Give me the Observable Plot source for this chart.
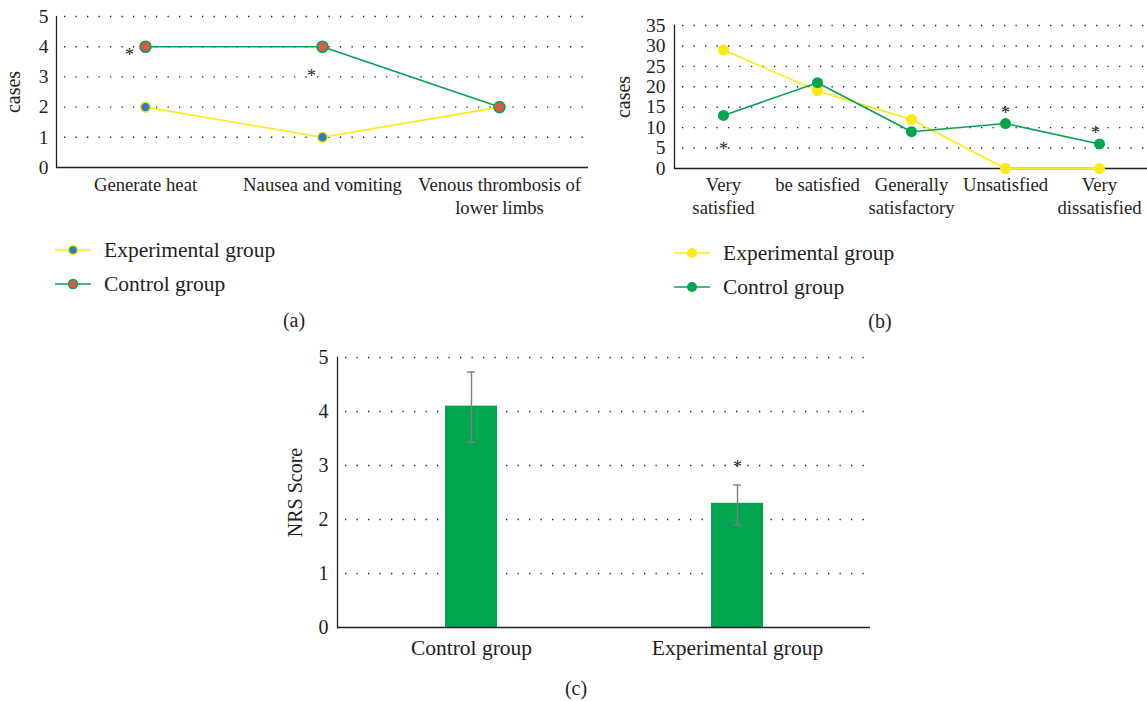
<!DOCTYPE html>
<html>
<head>
<meta charset="utf-8">
<script src="https://cdn.jsdelivr.net/npm/d3@7"></script>
<script src="https://cdn.jsdelivr.net/npm/@observablehq/plot@0.6"></script>
<style>
  html, body { margin: 0; padding: 0; background: #fff; }
  #root { position: relative; width: 1147px; height: 701px; background: #fff; font-family: "Liberation Serif", serif; color: #231f20; overflow: hidden; }
  .panel { position: absolute; }
  .leg { position: absolute; display: flex; align-items: center; height: 24px; font-size: 21.5px; white-space: nowrap; }
  .leg svg { display: block; margin-right: 13px; }
  .cap { position: absolute; font-size: 20px; transform: translate(-50%, -50%); }
</style>
</head>
<body>
<div id="root">
  <div id="pa" class="panel" style="left:0;top:0"></div>
  <div id="pb" class="panel" style="left:600px;top:0"></div>
  <div id="pc" class="panel" style="left:270px;top:340px"></div>
  <div id="legA"></div>
  <div id="legB"></div>
  <div class="cap" style="left:294px;top:320px">(a)</div>
  <div class="cap" style="left:880px;top:321px">(b)</div>
  <div class="cap" style="left:576px;top:688px">(c)</div>
</div>
<script>
// ---------- data ----------
const seriesNames = ["Experimental group", "Control group"];

const aCategories = ["Generate heat", "Nausea and vomiting", "Venous thrombosis of\nlower limbs"];
const aExperimental = [2, 1, 2];
const aControl = [4, 4, 2];
const aTicks = [0, 1, 2, 3, 4, 5];
const aStarCategories = ["Generate heat", "Nausea and vomiting"];
const aStarValues = [3.85, 3.15];

const bCategories = ["Very\nsatisfied", "be satisfied", "Generally\nsatisfactory", "Unsatisfied", "Very\ndissatisfied"];
const bExperimental = [29, 19, 12, 0, 0];
const bControl = [13, 21, 9, 11, 6];
const bTicks = [0, 5, 10, 15, 20, 25, 30, 35];
const bStarCategories = ["Very\nsatisfied", "Unsatisfied", "Very\ndissatisfied"];
const bStarValues = [5.8, 14.6, 9.5];

const cGroups = ["Control group", "Experimental group"];
const cMeans = [4.1, 2.3];
const cLow = [3.43, 1.9];
const cHigh = [4.73, 2.64];
const cTicks = [0, 1, 2, 3, 4, 5];
const cStarGroups = ["Experimental group"];
const cStarValues = [3.05];

// ---------- styles ----------
const INK = "#231f20";
const YELLOW = "#fcea10";
const GREEN = "#00a550";
const BLUE = "#2b7bc0";
const RED = "#e2574c";
const GRAY = "#7f7f7f";
const FONT = "Liberation Serif";
const intFmt = d3.format("d");
const dotted = {stroke: INK, strokeOpacity: 1, strokeWidth: 1.4, strokeDasharray: "1.3,10.2", strokeDashoffset: -8};

// ---------- panel (a) ----------
const aExpData = aCategories.map((c, i) => ({cat: c, v: aExperimental[i]}));
const aCtlData = aCategories.map((c, i) => ({cat: c, v: aControl[i]}));
const aStars = aStarCategories.map((c, i) => ({cat: c, v: aStarValues[i]}));

const plotA = Plot.plot({
  width: 600, height: 230,
  marginLeft: 56, marginRight: 12, marginTop: 16, marginBottom: 63,
  style: {fontFamily: FONT, fontSize: "18.7px", color: INK, background: "white", overflow: "visible"},
  x: {type: "point", domain: aCategories, padding: 0.5, label: null},
  y: {domain: [0, 5], label: null},
  marks: [
    Plot.gridY({ticks: aTicks.slice(1), ...dotted}),
    Plot.frame({anchor: "left", stroke: INK, strokeWidth: 1.3}),
    Plot.ruleY([0], {stroke: INK, strokeWidth: 1.3}),
    Plot.axisY({ticks: aTicks, tickFormat: intFmt, tickSize: 0, tickPadding: 8, fontSize: 19.5, label: null}),
    Plot.axisY({ticks: [], label: "cases", labelAnchor: "center", labelArrow: "none", labelOffset: 51, fontSize: 20}),
    Plot.axisX({tickSize: 0, tickPadding: 7, lineHeight: 1.25, fontSize: 18.7}),
    Plot.line(aExpData, {x: "cat", y: "v", stroke: YELLOW, strokeWidth: 1.6}),
    Plot.dot(aExpData, {x: "cat", y: "v", r: 5, fill: BLUE, stroke: YELLOW, strokeWidth: 1.6}),
    Plot.line(aCtlData, {x: "cat", y: "v", stroke: GREEN, strokeWidth: 1.6}),
    Plot.dot(aCtlData, {x: "cat", y: "v", r: 5.5, fill: RED, stroke: GREEN, strokeWidth: 1.6}),
    Plot.text([aStars[0]], {x: "cat", y: "v", text: () => "*", dx: -16, dy: 4, fontSize: 18, fill: INK}),
    Plot.text([aStars[1]], {x: "cat", y: "v", text: () => "*", dx: -11, dy: 4, fontSize: 18, fill: INK})
  ]
});
document.getElementById("pa").appendChild(plotA);

// ---------- panel (b) ----------
const bExpData = bCategories.map((c, i) => ({cat: c, v: bExperimental[i]}));
const bCtlData = bCategories.map((c, i) => ({cat: c, v: bControl[i]}));
const bStars = bStarCategories.map((c, i) => ({cat: c, v: bStarValues[i]}));

const plotB = Plot.plot({
  width: 547, height: 230,
  marginLeft: 74, marginRight: 0, marginTop: 25, marginBottom: 62,
  style: {fontFamily: FONT, fontSize: "18.7px", color: INK, background: "white", overflow: "visible"},
  x: {type: "point", domain: bCategories, padding: 0.5, label: null},
  y: {domain: [0, 35], label: null},
  marks: [
    Plot.gridY({ticks: bTicks.slice(1), ...dotted}),
    Plot.frame({anchor: "left", stroke: INK, strokeWidth: 1.3}),
    Plot.ruleY([0], {stroke: INK, strokeWidth: 1.3}),
    Plot.axisY({ticks: bTicks, tickFormat: intFmt, tickSize: 0, tickPadding: 9, fontSize: 19.5, label: null}),
    Plot.axisY({ticks: [], label: "cases", labelAnchor: "center", labelArrow: "none", labelOffset: 59, fontSize: 20}),
    Plot.axisX({tickSize: 0, tickPadding: 7, lineHeight: 1.2, fontSize: 18.7}),
    Plot.line(bExpData, {x: "cat", y: "v", stroke: YELLOW, strokeWidth: 1.6}),
    Plot.dot(bExpData, {x: "cat", y: "v", r: 5.5, fill: YELLOW}),
    Plot.line(bCtlData, {x: "cat", y: "v", stroke: GREEN, strokeWidth: 1.6}),
    Plot.dot(bCtlData, {x: "cat", y: "v", r: 5.5, fill: GREEN}),
    Plot.text([bStars[0]], {x: "cat", y: "v", text: () => "*", dx: 0, dy: 4, fontSize: 18, fill: INK}),
    Plot.text([bStars[1]], {x: "cat", y: "v", text: () => "*", dx: 0, dy: 4, fontSize: 18, fill: INK}),
    Plot.text([bStars[2]], {x: "cat", y: "v", text: () => "*", dx: -4, dy: 4, fontSize: 18, fill: INK})
  ]
});
document.getElementById("pb").appendChild(plotB);

// ---------- panel (c) ----------
const cData = cGroups.map((g, i) => ({g, m: cMeans[i], lo: cLow[i], hi: cHigh[i]}));
const cStars = cStarGroups.map((g, i) => ({g, v: cStarValues[i]}));

const plotC = Plot.plot({
  width: 600, height: 330,
  marginLeft: 67, marginRight: 0, marginTop: 17, marginBottom: 43,
  style: {fontFamily: FONT, fontSize: "21.5px", color: INK, background: "white", overflow: "visible"},
  x: {type: "band", domain: cGroups, paddingInner: 0.806, paddingOuter: 0.403, label: null},
  y: {domain: [0, 5], label: null},
  marks: [
    Plot.gridY({ticks: cTicks.slice(1), ...dotted}),
    Plot.barY(cData, {x: "g", y: "m", fill: GREEN}),
    Plot.frame({anchor: "left", stroke: INK, strokeWidth: 1.3}),
    Plot.ruleY([0], {stroke: INK, strokeWidth: 1.3}),
    Plot.ruleX(cData, {x: "g", y1: "lo", y2: "hi", stroke: GRAY, strokeWidth: 1.4}),
    Plot.tickY(cData, {x: "g", y: "lo", stroke: GRAY, strokeWidth: 1.4, insetLeft: 22, insetRight: 22}),
    Plot.tickY(cData, {x: "g", y: "hi", stroke: GRAY, strokeWidth: 1.4, insetLeft: 22, insetRight: 22}),
    Plot.axisY({ticks: cTicks, tickFormat: intFmt, tickSize: 0, tickPadding: 9, fontSize: 20, label: null}),
    Plot.axisY({ticks: [], label: "NRS Score", labelAnchor: "center", labelArrow: "none", labelOffset: 50, fontSize: 20}),
    Plot.axisX({tickSize: 0, tickPadding: 12, fontSize: 21.5}),
    Plot.text(cStars, {x: "g", y: "v", text: () => "*", dy: 4, fontSize: 18, fill: INK})
  ]
});
document.getElementById("pc").appendChild(plotC);

// ---------- legends ----------
function legend(containerId, left, tops, styles) {
  const host = document.getElementById(containerId);
  seriesNames.forEach((name, i) => {
    const s = styles[i];
    const row = document.createElement("div");
    row.className = "leg";
    row.style.left = left + "px";
    row.style.top = (tops[i] - 12) + "px";
    row.innerHTML = `<svg width="36" height="14" viewBox="0 0 36 14">
      <line x1="0" y1="7" x2="36" y2="7" stroke="${s.line}" stroke-width="1.6"/>
      <circle cx="18" cy="7" r="${s.r}" fill="${s.fill}" stroke="${s.stroke}" stroke-width="${s.sw}"/>
    </svg><span>${name}</span>`;
    host.appendChild(row);
  });
}
legend("legA", 55, [250, 284], [
  {line: YELLOW, fill: BLUE, stroke: YELLOW, r: 4.5, sw: 1.5},
  {line: GREEN, fill: RED, stroke: GREEN, r: 4.5, sw: 1.5}
]);
legend("legB", 674, [253, 287], [
  {line: YELLOW, fill: YELLOW, stroke: "none", r: 5, sw: 0},
  {line: GREEN, fill: GREEN, stroke: "none", r: 5, sw: 0}
]);
</script>
</body>
</html>
